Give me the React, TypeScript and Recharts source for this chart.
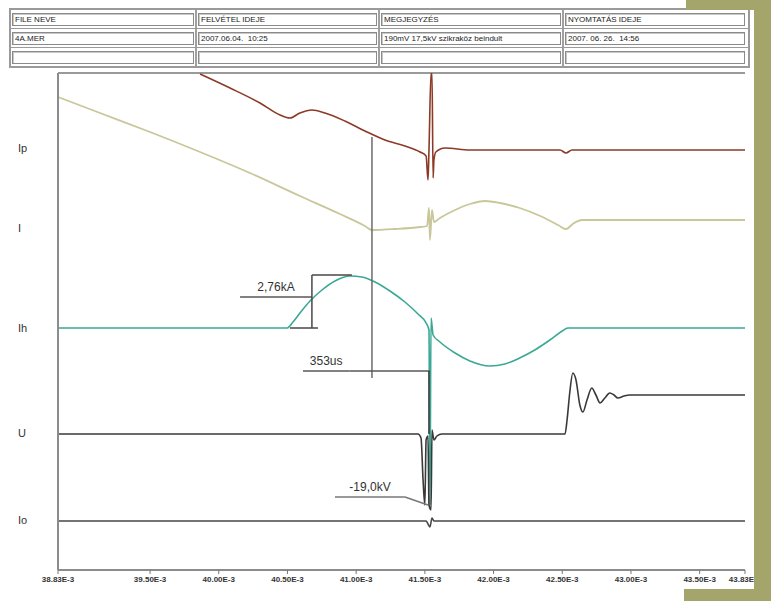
import React from 'react';
import {
  LineChart,
  Line,
  XAxis,
  YAxis,
  ReferenceLine,
} from 'recharts';

// x in ms (labels printed as E-3), y in display units: 0 = bottom of plot, 497 = top
const xTicks = [38.83, 39.5, 40, 40.5, 41, 41.5, 42, 42.5, 43, 43.5, 43.83];

const channelNames = ['Ip', 'I', 'Ih', 'U', 'Io'];
const channelLabelPos = [422, 342, 242, 137, 50];
const channelOffsets = [420, 342, 242, 136, 49];

// [t, value relative to channel zero]
const ipTrace: [number, number][] = [
  [39.864, 76], [40.082, 62], [40.3, 47], [40.446, 35], [40.518, 32], [40.591, 37],
  [40.678, 40], [40.773, 37], [40.918, 29], [41.064, 19], [41.21, 10], [41.355, 4],
  [41.465, -2], [41.509, -6], [41.523, -30], [41.53, 0], [41.545, 77], [41.552, 77],
  [41.56, -28], [41.566, -10], [41.58, -2], [41.646, 2], [41.828, 0], [42.484, 0],
  [42.527, -3], [42.571, 0], [43.83, 0],
];

const iTrace: [number, number][] = [
  [38.83, 131], [39.136, 115], [39.5, 96], [39.864, 76], [40.227, 55], [40.591, 32],
  [40.882, 14], [41.064, 2], [41.115, -2], [41.283, -1], [41.465, 1], [41.516, 2],
  [41.53, 20], [41.537, -12], [41.552, 18], [41.566, 6], [41.61, 10], [41.72, 18],
  [41.828, 24], [41.938, 27], [42.047, 25], [42.19, 20], [42.34, 12], [42.47, 3],
  [42.527, -1], [42.586, 5], [42.644, 8], [43.83, 8],
];

const ihTrace: [number, number][] = [
  [38.83, 0], [40.497, 0], [40.54, 6], [40.591, 15], [40.664, 27], [40.751, 38],
  [40.846, 47], [40.955, 52], [41.042, 51], [41.137, 46], [41.246, 37], [41.355, 26],
  [41.45, 14], [41.509, 5], [41.53, -2], [41.537, -177], [41.545, 10], [41.56, -7],
  [41.61, -14], [41.72, -25], [41.828, -33], [41.973, -38], [42.082, -36], [42.19, -30],
  [42.3, -22], [42.41, -12], [42.5, -3], [42.54, 0], [43.83, 0],
];

const uTrace: [number, number][] = [
  [38.83, 0], [41.45, 0], [41.472, -4], [41.487, -46], [41.5, -71], [41.509, -6],
  [41.523, -2], [41.53, -71], [41.545, -76], [41.552, 4], [41.566, -6], [41.588, -2],
  [41.624, 0], [42.52, 0], [42.535, 14], [42.555, 42], [42.577, 61], [42.6, 54],
  [42.628, 29], [42.65, 22], [42.68, 34], [42.715, 46], [42.745, 39], [42.775, 31],
  [42.81, 36], [42.846, 41], [42.876, 39], [42.905, 36], [42.95, 38], [42.99, 39],
  [43.83, 39],
];

const ioTrace: [number, number][] = [
  [38.83, 0], [41.509, 0], [41.523, -3], [41.537, -6], [41.552, 3], [41.566, 0],
  [43.83, 0],
];

const traceColors = ['#8c3a26', '#c9c79a', '#3aa894', '#3b3838', '#4a4646'];
const traces = [ipTrace, iTrace, ihTrace, uTrace, ioTrace];

const headerTitles = ['FILE NEVE', 'FELVÉTEL IDEJE', 'MEGJEGYZÉS', 'NYOMTATÁS IDEJE'];
const headerValues = ['4A.MER', '2007.06.04.  10:25', '190mV 17,5kV szikraköz beindult', '2007. 06. 26.  14:56'];
const headerWidths = [186, 183, 184, 184];

const sans = 'Liberation Sans, Arial, sans-serif';
const fmtTick = (v: number) => `${v.toFixed(2)}E-3`;
const noteLabel = (value: string) => ({
  value,
  position: 'top' as const,
  offset: 6,
  fontSize: 12,
  fill: '#333',
  fontFamily: sans,
});

function ChannelTick(props: any) {
  const { y, payload } = props;
  const idx = channelLabelPos.indexOf(payload.value);
  return (
    <text x={18} y={y} dy={4} fontSize={11} fill="#333" fontFamily={sans}>
      {channelNames[idx]}
    </text>
  );
}

function HeaderTable() {
  const cell = (w: number, text: string, key: string) => (
    <div
      key={key}
      style={{
        width: w - 4,
        height: 13,
        margin: 1,
        border: '1px solid #8a8a8a',
        boxShadow: 'inset 1px 1px 0 #c8c8c8',
        fontSize: 8,
        lineHeight: '12px',
        paddingLeft: 2,
        boxSizing: 'border-box',
        whiteSpace: 'pre',
        overflow: 'hidden',
        color: '#222',
        fontFamily: 'Liberation Sans Narrow, Liberation Sans, Arial, sans-serif',
      }}
    >
      {text}
    </div>
  );
  const row = (vals: string[], r: number) => (
    <div key={r} style={{ display: 'flex', height: 18, borderBottom: r < 2 ? '1px solid #9a9a9a' : 'none', alignItems: 'center' }}>
      {vals.map((v, i) => (
        <div key={i} style={{ borderRight: i < 3 ? '2px solid #a0a0a0' : 'none', height: 18, display: 'flex', alignItems: 'center' }}>
          {cell(headerWidths[i], v, `${r}-${i}`)}
        </div>
      ))}
    </div>
  );
  return (
    <div
      style={{
        position: 'absolute',
        left: 9,
        top: 8,
        width: 737,
        border: '2px solid #9a9a9a',
        background: '#fff',
        boxSizing: 'content-box',
      }}
    >
      {row(headerTitles, 0)}
      {row(headerValues, 1)}
      {row(['', '', '', ''], 2)}
    </div>
  );
}

export default function App() {
  return (
    <div style={{ position: 'absolute', left: 0, top: 0, width: 771, height: 601, background: '#fff', overflow: 'hidden' }}>
      <LineChart width={771} height={601} margin={{ top: 73, right: 26, bottom: 1, left: 0 }}>
        <XAxis
          type="number"
          dataKey="t"
          domain={[38.83, 43.83]}
          ticks={xTicks}
          tickFormatter={fmtTick}
          allowDataOverflow
          height={30}
          tickSize={4}
          axisLine={{ stroke: '#8c8c8c', strokeWidth: 2 }}
          tickLine={{ stroke: '#777' }}
          tick={{ fontSize: 8, fill: '#333', fontWeight: 'bold', fontFamily: 'Liberation Sans Narrow, Liberation Sans, sans-serif' }}
          interval={0}
        />
        <YAxis
          type="number"
          dataKey="v"
          domain={[0, 497]}
          ticks={channelLabelPos}
          width={58}
          allowDataOverflow
          axisLine={{ stroke: '#8c8c8c', strokeWidth: 2 }}
          tickLine={false}
          tick={<ChannelTick />}
          interval={0}
        />
        <ReferenceLine y={497} stroke="#9a9a9a" strokeWidth={2} />
        {traces.map((tr, i) => (
          <Line
            key={channelNames[i]}
            data={tr.map(([t, v]) => ({ t, v: v + channelOffsets[i] }))}
            dataKey="v"
            type="monotone"
            stroke={traceColors[i]}
            strokeWidth={i === 1 ? 1.8 : 1.6}
            dot={false}
            isAnimationActive={false}
          />
        ))}
        {/* cursor */}
        <ReferenceLine segment={[{ x: 41.115, y: 433 }, { x: 41.115, y: 192 }]} stroke="#6e6a6a" strokeWidth={1.5} />
        {/* 2,76kA */}
        <ReferenceLine
          segment={[{ x: 40.155, y: 273 }, { x: 40.678, y: 273 }]}
          stroke="#5a5656"
          strokeWidth={1.5}
          label={noteLabel('2,76kA')}
        />
        <ReferenceLine segment={[{ x: 40.678, y: 295 }, { x: 40.678, y: 242 }]} stroke="#4a4646" strokeWidth={1.5} />
        <ReferenceLine segment={[{ x: 40.678, y: 295 }, { x: 40.969, y: 295 }]} stroke="#4a4646" strokeWidth={1.5} />
        <ReferenceLine segment={[{ x: 40.518, y: 242 }, { x: 40.722, y: 242 }]} stroke="#4a4646" strokeWidth={1.5} />
        {/* 353us */}
        <ReferenceLine
          segment={[{ x: 40.613, y: 199 }, { x: 40.95, y: 199 }]}
          stroke="#5a5656"
          strokeWidth={1.5}
          label={noteLabel('353us')}
        />
        <ReferenceLine segment={[{ x: 40.95, y: 199 }, { x: 41.537, y: 199 }]} stroke="#5a5656" strokeWidth={1.5} />
        <ReferenceLine segment={[{ x: 41.53, y: 199 }, { x: 41.53, y: 136 }]} stroke="#3b3838" strokeWidth={1.5} />
        {/* -19,0kV */}
        <ReferenceLine
          segment={[{ x: 40.846, y: 73 }, { x: 41.355, y: 73 }]}
          stroke="#7a7676"
          strokeWidth={1.5}
          label={noteLabel('-19,0kV')}
        />
        <ReferenceLine segment={[{ x: 41.355, y: 73 }, { x: 41.523, y: 65 }]} stroke="#7a7676" strokeWidth={1.5} />
      </LineChart>
      <HeaderTable />
      <div style={{ position: 'absolute', left: 686, top: 0, width: 85, height: 10, background: '#a3a56b' }} />
      <div style={{ position: 'absolute', left: 754, top: 0, width: 17, height: 601, background: '#a3a56b' }} />
      <div style={{ position: 'absolute', left: 684, top: 589, width: 87, height: 12, background: '#a3a56b' }} />
    </div>
  );
}
